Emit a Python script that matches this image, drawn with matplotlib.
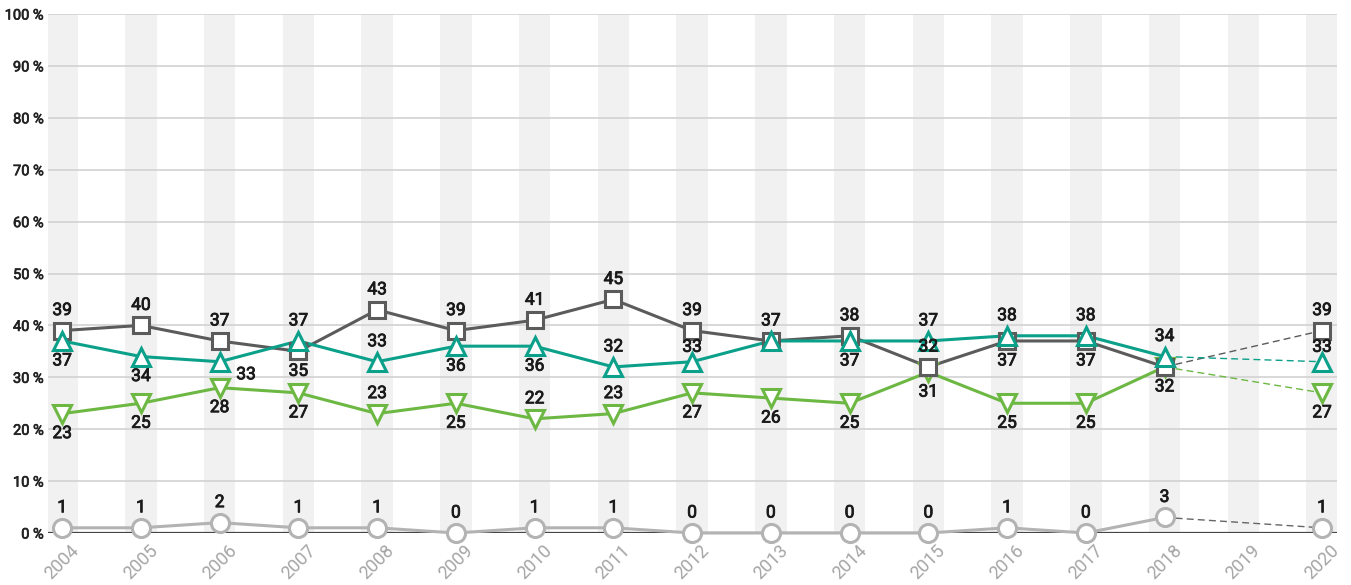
import numpy as np
import matplotlib.pyplot as plt
import matplotlib.patheffects as pe

plt.rcParams['font.family'] = ['Roboto', 'DejaVu Sans']

years = list(range(2004, 2021))
# 2019 has no value
dark = [39, 40, 37, 35, 43, 39, 41, 45, 39, 37, 38, 32, 37, 37, 32, np.nan, 39]
teal = [37, 34, 33, 37, 33, 36, 36, 32, 33, 37, 37, 37, 38, 38, 34, np.nan, 33]
green = [23, 25, 28, 27, 23, 25, 22, 23, 27, 26, 25, 31, 25, 25, 32, np.nan, 27]
light = [1, 1, 2, 1, 1, 0, 1, 1, 0, 0, 0, 0, 1, 0, 3, np.nan, 1]

# label placement: 'a' above, 'b' below, 'r' below-right, 's' just above, '' hidden
dark_pos = list('aaabaaaaaaaabbb') + ['', 'a']
teal_pos = ['b', 'b', 'r', 'a', 'a', 'b', 'b', 'a', 's', '', 'b', 'a', 'a', 'a', 'a', '', 's']
green_pos = ['b', 'b', 'b', 'b', 'a', 'b', 'a', 'a', 'b', 'b', 'b', 'b', 'b', 'b', '', '', 'b']
light_pos = ['a'] * 17

series = [
    (light, light_pos, '#b3b3b3', 'o', '#666666'),
    (green, green_pos, '#6cb843', 'v', '#6cb843'),
    (dark, dark_pos, '#5b5b5b', 's', '#5b5b5b'),
    (teal, teal_pos, '#0ba08a', '^', '#0ba08a'),
]

fig = plt.figure(figsize=(13.51, 5.85), dpi=100)
ax = fig.add_axes([48 / 1351, 1 - 533 / 585, (1337 - 48) / 1351, (533 - 14) / 585])

for yr in years:
    ax.axvspan(yr - 0.2, yr + 0.2, color='#f1f1f1', zorder=0, lw=0)

ax.set_ylim(0, 100)
ax.set_xlim(2003.82, 2020.19)
ax.set_yticks(range(0, 101, 10))
ax.set_yticklabels([f'{v} %' for v in range(0, 101, 10)])
for v in range(10, 101, 10):
    ax.axhline(v, color='#d2d2d2', lw=1.2, zorder=1)
ax.axhline(0, color='#444444', lw=1.6, zorder=2)

offsets = {'a': ((0, 9), 'bottom'), 'b': ((0, -9), 'top'),
           'r': ((19, -4), 'top'), 's': ((0, 5), 'bottom')}
thick = [pe.withStroke(linewidth=0.6, foreground='#1a1a1a')]

for vals, pos, col, mk, dcol in series:
    v = np.array(vals, dtype=float)
    x = np.array(years)
    ax.plot(x[:15], v[:15], color=col, lw=2.2, zorder=3, clip_on=False)
    ax.plot([x[14], x[16]], [v[14], v[16]], color=dcol, lw=1, ls=(0, (5, 3)), zorder=3)
    ok = ~np.isnan(v)
    ax.plot(x[ok], v[ok], ls='none', marker=mk, ms=13 if mk != 's' else 11.5,
            mfc='white', mec=col, mew=2.2, zorder=4, clip_on=False)
    for xi, yi, p in zip(x, v, pos):
        if not p or np.isnan(yi):
            continue
        off, va = offsets[p]
        ax.annotate(f'{int(yi)}', (xi, yi), xytext=off, textcoords='offset points',
                    ha='center', va=va, fontsize=12.5, color='#1a1a1a',
                    zorder=5, path_effects=thick)

ax.set_xticks(years)
ax.set_xticklabels([str(y) for y in years], rotation=45, ha='center',
                   fontsize=13, color='#a5a5a5')
ax.tick_params(axis='y', length=0, labelsize=10.5, labelcolor='#222222', pad=3)
ax.tick_params(axis='x', length=0, pad=6)
for lbl in ax.get_yticklabels():
    lbl.set_path_effects([pe.withStroke(linewidth=0.5, foreground='#222222')])
for s in ax.spines.values():
    s.set_visible(False)

fig.savefig('out.png', dpi=100)
